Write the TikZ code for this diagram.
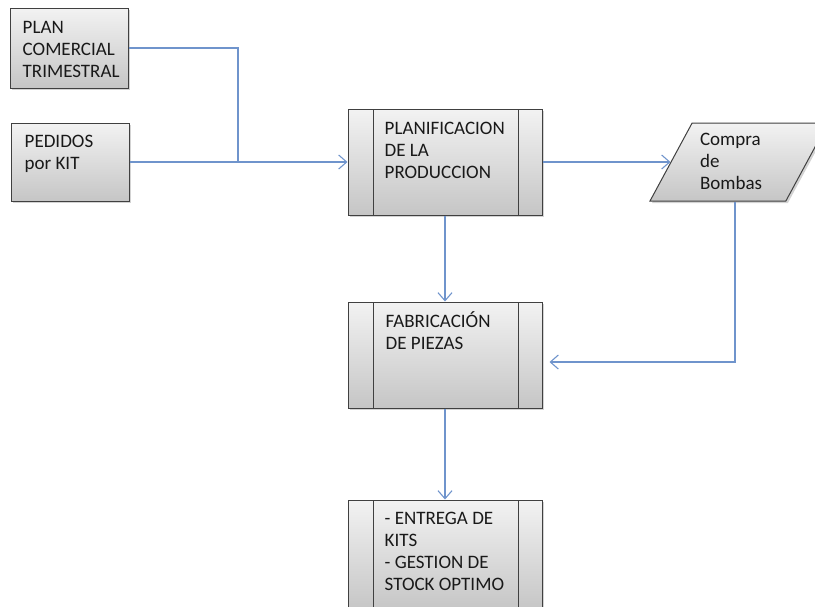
\documentclass[tikz,border=0pt]{standalone}
\usepackage{fontspec}
\setmainfont{Carlito}
\usetikzlibrary{positioning,shapes.geometric,shadows,arrows.meta}
\definecolor{flujo}{RGB}{111,148,204}
\definecolor{borde}{RGB}{64,64,64}

\begin{document}
\begin{tikzpicture}[x=1pt, y=1pt, >={Straight Barb[length=8pt,width=14pt]}]
        \tikzstyle{caja}=[draw=borde, line width=1pt, top color=gray!10, bottom color=gray!45,
            drop shadow={shadow xshift=2pt, shadow yshift=-2pt, opacity=0.35}]
        \tikzstyle{proceso}=[caja, minimum width=194pt, minimum height=106pt,
            path picture={
                \draw[borde, line width=1pt] ([xshift=25pt]path picture bounding box.north west) -- ([xshift=25pt]path picture bounding box.south west);
                \draw[borde, line width=1pt] ([xshift=-24pt]path picture bounding box.north east) -- ([xshift=-24pt]path picture bounding box.south east);
            }]
        \tikzstyle{texto}=[align=left, inner sep=0pt, font=\fontsize{19}{22}\selectfont, text=black!90]
        \tikzstyle{flecha}=[draw=flujo, line width=1.1pt]

        \useasboundingbox (0,0) rectangle (815,-606);

        % entradas
        \node[caja, minimum width=118pt, minimum height=80pt] (plan) at (69,-48) {};
        \node[caja, minimum width=118pt, minimum height=78pt] (pedidos) at (70,-162) {};
        \node[texto, below right=14pt and 13pt of plan.north west] (plan t) {PLAN\\COMERCIAL\\TRIMESTRAL};
        \node[texto, below right=12pt and 14pt of pedidos.north west] (pedidos t) {PEDIDOS\\por KIT};

        % procesos
        \node[proceso] (planif) at (445,-162) {};
        \node[proceso] (fabric) at (445,-355) {};
        \node[proceso, minimum height=110pt] (entrega) at (445,-555) {};
        \node[texto, below right=13pt and 37pt of planif.north west] (planif t) {PLANIFICACION\\DE LA\\PRODUCCION};
        \node[texto, below right=10pt and 38pt of fabric.north west] (fabric t) {FABRICACIÓN\\DE PIEZAS};
        \node[texto, below right=12pt and 37pt of entrega.north west] (entrega t) {- ENTREGA DE\\KITS\\- GESTION DE\\STOCK OPTIMO};

        % compra
        \node[caja, trapezium, trapezium left angle=65.8, trapezium right angle=114.2,
            trapezium stretches=true, minimum width=178pt, minimum height=78pt] (compra) at (739,-162) {};
        \node[texto, below right=10pt and 8pt of compra.top left corner] (compra t) {Compra\\de\\Bombas};

        \coordinate (union) at (238,-162);
        \draw[flecha] (plan.east) -| (union);
        \draw[flecha, ->] (pedidos.east) -- (planif.west);
        \draw[flecha, ->] (planif.east) -- (compra.west);
        \draw[flecha, ->] (planif.south) -- (fabric.north);
        \draw[flecha, ->] ([xshift=-4pt]compra.south) |- ([xshift=7pt, yshift=-7pt]fabric.east);
        \draw[flecha, ->] (fabric.south) -- (entrega.north);

    \end{tikzpicture}
\end{document}
